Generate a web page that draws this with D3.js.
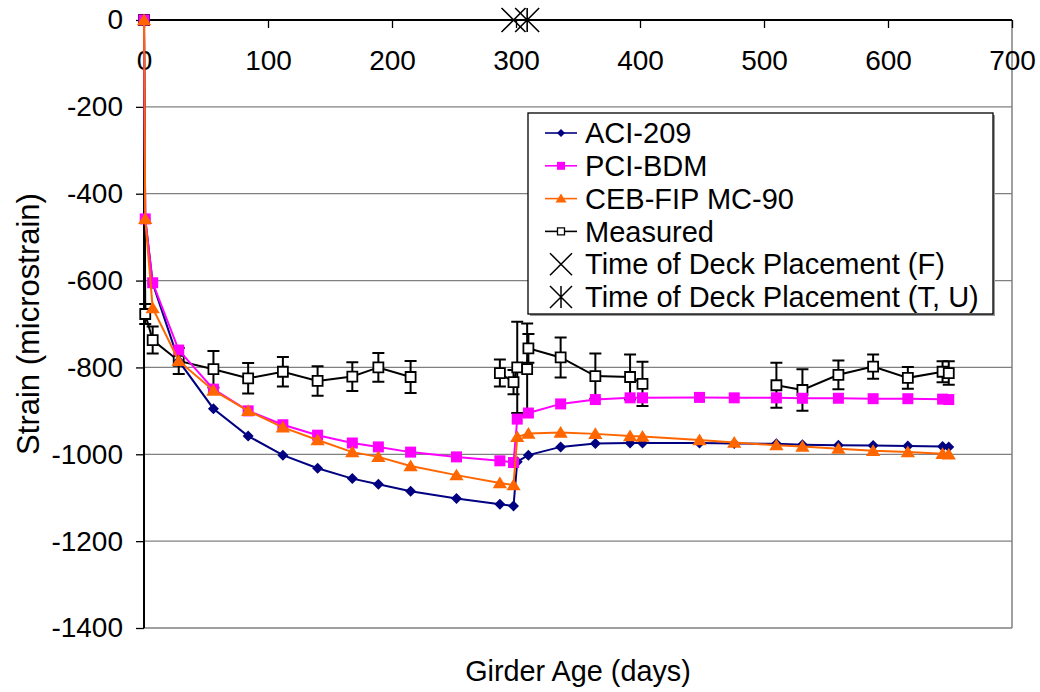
<!DOCTYPE html>
<html>
<head>
<meta charset="utf-8">
<script src="https://cdn.jsdelivr.net/npm/d3@7"></script>
<style>
  body { margin: 0; background: #fff; }
  svg { font-family: "Liberation Sans", Arial, sans-serif; }
</style>
</head>
<body>
<div id="chart"></div>
<script>
// model predictions share one set of ages
const modelDays = [0, 1, 7, 28, 56, 84, 112, 140, 168, 189, 215, 252, 287, 298, 301, 310, 336, 364, 392, 402, 448, 476, 510, 531, 560, 588, 616, 644, 649];
const aci209 = [0, -458, -606, -785, -895, -958, -1002, -1032, -1056, -1069, -1085, -1102, -1115, -1119, -1017, -1002, -983, -975, -974, -974, -974, -975, -976, -978, -979, -980, -981, -982, -983];
const pciBdm = [0, -458, -605, -760, -850, -900, -932, -956, -974, -983, -995, -1006, -1015, -1019, -919, -905, -884, -874, -870, -870, -869, -870, -870, -871, -871, -872, -872, -873, -874];
const cebFip = [0, -458, -663, -785, -853, -900, -938, -967, -995, -1006, -1027, -1048, -1066, -1071, -960, -952, -950, -953, -958, -959, -967, -973, -979, -982, -987, -992, -995, -999, -1000];

// measured strains with error bar half-widths (null = no reading, line breaks)
const measDays = [0, 1, 7, 28, 56, 84, 112, 140, 168, 189, 215, 252, 287, 298, 301, 309, 310, 336, 364, 392, 402, 448, 510, 531, 560, 588, 616, 644, 649];
const measured = [0, -677, -737, -785, -804, -825, -810, -831, -821, -800, -822, null, -813, -834, -800, -804, -756, -777, -820, -822, -838, null, -841, -852, -817, -798, -824, -810, -813];
const measErr = [0, 23, 31, 30, 42, 35, 34, 34, 33, 33, 37, null, 31, 28, 105, 105, 33, 46, 52, 52, 51, null, 52, 48, 33, 28, 25, 24, 27];

const deckF = [298];
const deckTU = [309];

const xTicks = [0, 100, 200, 300, 400, 500, 600, 700];
const yTicks = [0, -200, -400, -600, -800, -1000, -1200, -1400];

const W = 1040, H = 692;
const pLeft = 144, pRight = 1012, pTop = 20, pBottom = 628;
const FS = 28;

const svg = d3.select('#chart').append('svg')
    .attr('width', W).attr('height', H);

const x = d3.scaleLinear().domain([0, 700]).range([pLeft, pRight]);
const y = d3.scaleLinear().domain([-1400, 0]).range([pBottom, pTop]);

// gridlines
svg.append('g').selectAll('line')
    .data(yTicks.filter(v => v !== 0))
    .enter().append('line')
    .attr('x1', pLeft).attr('x2', pRight)
    .attr('y1', d => y(d)).attr('y2', d => y(d))
    .attr('stroke', '#808080').attr('stroke-width', 1.3);

// plot frame (right side gray)
svg.append('line').attr('x1', pRight).attr('x2', pRight).attr('y1', pTop).attr('y2', pBottom)
    .attr('stroke', '#808080').attr('stroke-width', 1.5);

// y axis
const yAxis = svg.append('g')
    .attr('transform', `translate(${pLeft},0)`)
    .call(d3.axisLeft(y).tickValues(yTicks).tickSizeInner(8).tickSizeOuter(0).tickPadding(13));
yAxis.select('.domain').remove();
yAxis.selectAll('line').attr('stroke', '#000').attr('stroke-width', 1.3);
yAxis.selectAll('text').attr('font-size', FS).attr('fill', '#000')
    .attr('font-family', '"Liberation Sans", Arial, sans-serif')
    .text(d => d < 0 ? '-' + Math.abs(d) : d);

// x axis at strain = 0
const xAxis = svg.append('g')
    .attr('transform', `translate(0,${y(0)})`)
    .call(d3.axisBottom(x).tickValues(xTicks).tickSizeInner(8).tickSizeOuter(0).tickPadding(22));
xAxis.select('.domain').remove();
xAxis.selectAll('line').attr('stroke', '#000').attr('stroke-width', 1.3);
xAxis.selectAll('text').attr('font-size', FS).attr('fill', '#000')
    .attr('font-family', '"Liberation Sans", Arial, sans-serif');

svg.append('line').attr('x1', pLeft).attr('x2', pRight).attr('y1', y(0)).attr('y2', y(0))
    .attr('stroke', '#000').attr('stroke-width', 2);
svg.append('line').attr('x1', pLeft).attr('x2', pLeft).attr('y1', pTop).attr('y2', pBottom)
    .attr('stroke', '#000').attr('stroke-width', 2);

// marker shapes
function markerPath(type, s) {
    if (type === 'diamond') return `M0,${-s}L${s},0L0,${s}L${-s},0Z`;
    if (type === 'square') return `M${-s},${-s}H${s}V${s}H${-s}Z`;
    if (type === 'triangle') return `M0,${-s}L${s * 1.1},${s * 0.8}L${-s * 1.1},${s * 0.8}Z`;
    if (type === 'x') return `M${-s},${-s}L${s},${s}M${s},${-s}L${-s},${s}`;
    if (type === 'star') return `M${-s},${-s}L${s},${s}M${s},${-s}L${-s},${s}M0,${-s}V${s}`;
    return '';
}

const line = d3.line().defined(d => d[1] !== null).x(d => x(d[0])).y(d => y(d[1]));

// measured series with error bars
const meas = measDays.map((d, i) => [d, measured[i], measErr[i]]);
const measPts = meas.filter(d => d[1] !== null);
const gm = svg.append('g');
gm.selectAll('.err').data(measPts.filter(d => d[2] > 0)).enter().append('path')
    .attr('d', d => {
        const cx = x(d[0]), y1 = y(d[1] + d[2]), y2 = y(d[1] - d[2]);
        return `M${cx},${y1}V${y2}M${cx - 6},${y1}H${cx + 6}M${cx - 6},${y2}H${cx + 6}`;
    })
    .attr('stroke', '#000').attr('stroke-width', 2).attr('fill', 'none');
gm.append('path').datum(meas).attr('d', line)
    .attr('fill', 'none').attr('stroke', '#000').attr('stroke-width', 2);
gm.selectAll('.m').data(measPts).enter().append('path')
    .attr('transform', d => `translate(${x(d[0])},${y(d[1])})`)
    .attr('d', markerPath('square', 5))
    .attr('fill', '#fff').attr('stroke', '#000').attr('stroke-width', 1.8);

const models = [
    { name: 'ACI-209', vals: aci209, color: '#000080', marker: 'diamond', size: 5.5 },
    { name: 'PCI-BDM', vals: pciBdm, color: '#FF00FF', marker: 'square', size: 5.5 },
    { name: 'CEB-FIP MC-90', vals: cebFip, color: '#FF6600', marker: 'triangle', size: 6.5 }
];

models.forEach(m => {
    const pts = modelDays.map((d, i) => [d, m.vals[i]]);
    const g = svg.append('g');
    g.append('path').datum(pts).attr('d', line)
        .attr('fill', 'none').attr('stroke', m.color).attr('stroke-width', 2);
    g.selectAll('path.mk').data(pts).enter().append('path')
        .attr('class', 'mk')
        .attr('transform', d => `translate(${x(d[0])},${y(d[1])})`)
        .attr('d', markerPath(m.marker, m.size))
        .attr('fill', m.color);
});

// deck placement markers
svg.selectAll('.deckF').data(deckF).enter().append('path')
    .attr('transform', d => `translate(${x(d)},${y(0)})`)
    .attr('d', markerPath('x', 12))
    .attr('stroke', '#000').attr('stroke-width', 1.6).attr('fill', 'none');
svg.selectAll('.deckTU').data(deckTU).enter().append('path')
    .attr('transform', d => `translate(${x(d)},${y(0)})`)
    .attr('d', markerPath('star', 12))
    .attr('stroke', '#000').attr('stroke-width', 1.6).attr('fill', 'none');

// legend
const lg = svg.append('g').attr('transform', 'translate(528,113)');
lg.append('rect').attr('x', 2).attr('y', 2).attr('width', 465).attr('height', 201).attr('fill', '#999');
lg.append('rect').attr('width', 465).attr('height', 201)
    .attr('fill', '#fff').attr('stroke', '#000').attr('stroke-width', 1.3);
const legendItems = [
    { name: 'ACI-209', color: '#000080', marker: 'diamond', size: 4, fill: '#000080', ln: true },
    { name: 'PCI-BDM', color: '#FF00FF', marker: 'square', size: 4, fill: '#FF00FF', ln: true },
    { name: 'CEB-FIP MC-90', color: '#FF6600', marker: 'triangle', size: 5, fill: '#FF6600', ln: true },
    { name: 'Measured', color: '#000', marker: 'square', size: 3.5, fill: '#fff', ln: true },
    { name: 'Time of Deck Placement (F)', color: '#000', marker: 'x', size: 11, fill: 'none', ln: false },
    { name: 'Time of Deck Placement (T, U)', color: '#000', marker: 'star', size: 11, fill: 'none', ln: false }
];
const li = lg.selectAll('.li').data(legendItems).enter().append('g')
    .attr('transform', (d, i) => `translate(0,${20 + i * 32.8})`);
li.filter(d => d.ln).append('line')
    .attr('x1', 17).attr('x2', 49).attr('y1', 0).attr('y2', 0)
    .attr('stroke', d => d.color).attr('stroke-width', 1.6);
li.append('path')
    .attr('transform', 'translate(33,0)')
    .attr('d', d => markerPath(d.marker, d.size))
    .attr('fill', d => d.fill)
    .attr('stroke', d => d.fill === 'none' || d.fill === '#fff' ? d.color : 'none')
    .attr('stroke-width', d => d.fill === 'none' ? 1.5 : 1.3);
li.append('text').attr('x', 57).attr('y', 0).attr('dy', '0.35em')
    .attr('font-size', 29).attr('fill', '#000').text(d => d.name);

// axis titles
svg.append('text')
    .attr('x', (pLeft + pRight) / 2).attr('y', 681)
    .attr('text-anchor', 'middle').attr('font-size', 28.8).attr('fill', '#000')
    .text('Girder Age (days)');
svg.append('text')
    .attr('transform', `translate(39,${(pTop + pBottom) / 2}) rotate(-90)`)
    .attr('text-anchor', 'middle').attr('font-size', 31).attr('fill', '#000')
    .text('Strain (microstrain)');
</script>
</body>
</html>
